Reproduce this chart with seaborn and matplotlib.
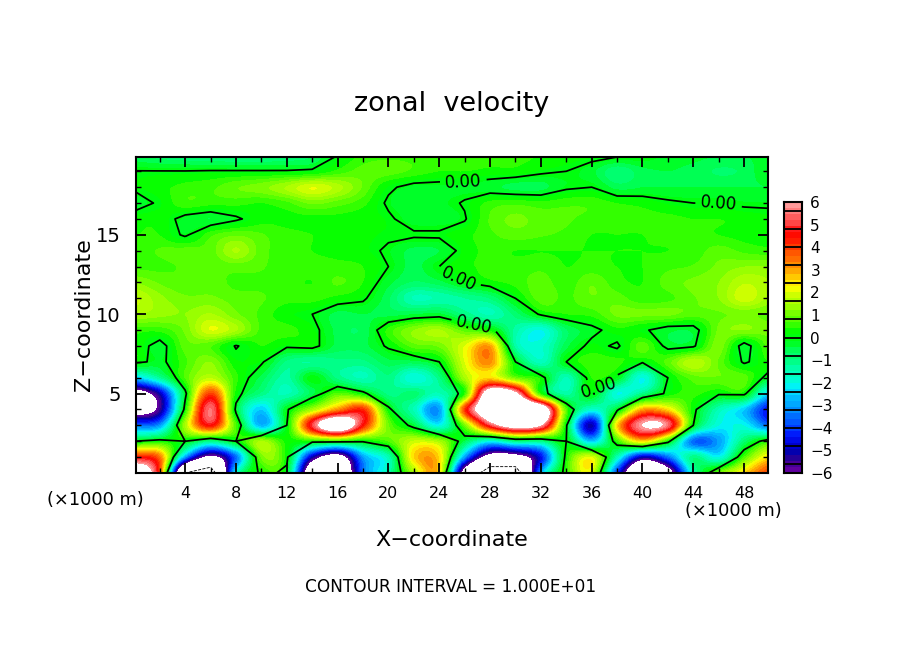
import numpy as np
import pandas as pd
import matplotlib
matplotlib.use('Agg')
import matplotlib.pyplot as plt
from matplotlib.colors import LinearSegmentedColormap, ListedColormap, BoundaryNorm
import seaborn as sns

# grid: x every 2 km, z every 1 km
x_km = [0, 2, 4, 6, 8, 10, 12, 14, 16, 18, 20, 22, 24, 26, 28, 30, 32, 34, 36, 38, 40, 42, 44, 46, 48, 50]
z_km = list(range(21))

u_z00 = [8, 4, -10, -12, -2, 0.3, -0.2, -8, -9, -3.5, -1.5, 1.5, 2.5, -7, -12, -12, -3, 0.5, 2, -4, -9, -7, -1.5, 1, 2.5, 4]
u_z01 = [4.5, 3.5, -3, -6.5, -3.5, 1, 0.2, -5, -7, -3, -1.5, 2.5, 2.5, -3, -7, -7, -4.5, 0.3, 2, -1.5, -5, -3.5, -1, -2, 0.7, 2.5]
u_z02 = [0, 0.3, 0, -1, 0, 1.5, 0.3, 0.3, 0.3, 0.1, 0.7, 1.8, 1.5, -0.5, -2, -1, -1, 0, -2.5, 0.5, 2.5, 0.3, -3.5, -3, -0.8, 0.5]
u_z03 = [-3.5, -3, 1.5, 4.5, 0.7, -2.7, 0, 5, 8, 4.5, 1, -0.3, -2, 1, 5, 7, 6, 0.1, -5, 2.5, 6, 5.5, 0, -2, -2, -3.5]
u_z04 = [-7, -5.5, 0.3, 5.5, -0.2, -2.5, -0.1, 1.5, 3.2, 4.2, 0.2, -1.5, -3, 4, 8, 9, 8, 0.8, -1.8, -0.2, 3, 2.5, 0.2, -1.5, -2.5, -4.5]
u_z05 = [-7, -5, -0.2, 4, 0.3, -1, -1.5, -0.5, 0.8, 0.2, -1, -0.8, -1.5, 0.5, 7.5, 6.5, 0.5, -1.3, 0, -2, -1, 0.2, 0.5, 0.1, 0.2, -2.5]
u_z06 = [-2.5, -1.2, 0.7, 1.7, 0.5, -0.5, -1.3, 0, -1, -1.5, -1, -2, -1, 1.5, 2.5, 1, 0.3, -1.5, 0.4, -0.1, -2, 0, 0.8, 0.9, 0.8, -0.3]
u_z07 = [0.2, -0.2, 0.6, 1.2, 0.2, 0.1, -1, -1.2, -1, -1, -0.5, -0.5, 0, 2, 3.2, 0, -1.6, 0, 0.6, 0.5, 0.1, 0.8, 1.7, 0.9, -0.1, 0.4]
u_z08 = [0.4, -0.3, 0.8, 0.7, -0.05, 0.4, 0.1, 0.2, -0.5, -0.5, 0.1, 0.8, 1, 2, 3, -1.3, -1.8, -0.5, 0.2, -0.1, 0.8, -0.2, -0.1, 1.1, -0.3, 0.8]
u_z09 = [0.5, 0.5, 1, 2, 1.5, 0.6, 0.5, 0.2, -0.5, -0.6, 0.5, 1.2, 1.5, 0.8, 0.3, -1.3, -2, -0.7, -0.2, 0.3, 0.1, -0.3, -0.3, 1, 1.2, 1]
u_z10 = [1.5, 1.3, 1.2, 1.5, 1, 0.6, 0.2, 0, -0.5, -0.4, -0.5, -0.4, -0.3, -1, -1.5, -0.8, 0.1, 0.4, 0.5, 1, 1, 1, 0.8, 0.9, 1, 0.9]
u_z11 = [1.8, 1.3, 1, 1, 0.8, 0.7, 0.5, 0.5, 0.3, 0.1, -0.6, -1.5, -1.4, -1.2, -0.9, 0, 0.8, 0.6, 0.9, 0.8, 0.5, 0.6, 0.9, 1.2, 1.9, 1.4]
u_z12 = [1.2, 0.9, 0.7, 0.8, 0.6, 0.6, 0.5, 0.4, 0.7, 0.4, -0.3, -0.7, -0.5, 0, 0.3, 0.5, 0.8, 0.5, 0.9, 0.5, 0.4, 0.8, 1, 1.2, 1.7, 1.5]
u_z13 = [0.6, 0.6, 0.7, 0.7, 0.8, 0.7, 0.5, 0.5, 0.5, 0.4, 0, -0.5, 0, 0.3, 0.5, 0.5, 0.6, 0.4, 0.5, 0.4, 0.4, 0.6, 0.7, 1, 1.2, 1.2]
u_z14 = [0.5, 0.7, 0.8, 0.8, 1.5, 0.8, 0.5, 0.4, 0.3, 0.2, -0.1, -0.5, -0.4, 0.2, 0.5, 0.4, 0.4, 0.4, 0.4, 0.4, 0.4, 0.4, 0.5, 0.8, 0.6, 0.5]
u_z15 = [0.4, 0.4, -0.1, 0.6, 0.9, 0.7, 0.5, 0.4, 0.3, 0.2, 0.1, 0.1, 0.1, 0.3, 0.6, 0.8, 0.7, 0.6, 0.4, 0.4, 0.4, 0.5, 0.5, 0.4, 0.3, 0.2]
u_z16 = [0.3, 0.3, -0.2, -0.4, -0.1, 0.3, 0.3, 0.3, 0.3, 0.2, 0.1, -0.3, -0.3, -0.05, 0.7, 1, 0.8, 0.7, 0.6, 0.5, 0.5, 0.5, 0.4, 0.4, 0.3, 0.2]
u_z17 = [-0.3, 0.1, 0.6, 0.5, 0.5, 0.4, 0.6, 1, 0.8, 0.5, -0.1, -0.3, -0.2, 0.05, 0.5, 0.6, 0.5, 0.6, 0.6, 0.4, 0.3, 0.1, 0, 0, -0.1, -0.1]
u_z18 = [0.1, 0.3, 0.5, 0.6, 0.9, 1.1, 1.5, 2, 1.6, 0.9, 0.1, -0.2, -0.2, -0.2, -0.3, -0.5, -0.5, -0.1, 0, -0.5, -0.4, -0.4, -0.4, -0.4, -0.4, -0.4]
u_z19 = [0.02, 0.02, 0.02, 0.05, 0.05, 0.05, 0.05, 0.1, 0.5, 0.8, 0.8, 0.6, 0.4, 0.4, 0.3, 0.3, 0.1, 0, -0.3, -0.9, -0.5, -0.4, -0.5, -0.7, -0.6, -0.1]
u_z20 = [-0.6, -0.8, -0.9, -1, -1, -1, -0.9, -0.7, 0, 0.5, 0.6, 0.6, 0.6, 0.7, 0.6, 0.5, 0.4, 0.3, 0.2, 0.1, 0.05, -0.2, -0.3, -0.4, -0.4, -0.3]

u_rows = [u_z00, u_z01, u_z02, u_z03, u_z04, u_z05, u_z06, u_z07, u_z08, u_z09, u_z10,
          u_z11, u_z12, u_z13, u_z14, u_z15, u_z16, u_z17, u_z18, u_z19, u_z20]

cbar_labels = [6, 5, 4, 3, 2, 1, 0, -1, -2, -3, -4, -5, -6]
xtick_labels = [4, 8, 12, 16, 20, 24, 28, 32, 36, 40, 44, 48]
ytick_labels = [5, 10, 15]

# colour ramp from the colour bar, low to high
ramp = ['#6000a0', '#300090', '#0000b0', '#0000e0', '#0020ff', '#0050ff', '#0070ff',
        '#00a0ff', '#00c0ff', '#00f0ff', '#00ffd0', '#00ffb0', '#00ff80', '#00ff60',
        '#00ff20', '#00ff00', '#40ff00', '#70ff00', '#a0ff00', '#c8ff00', '#ffff00',
        '#ffd000', '#ffa000', '#ff7000', '#ff5000', '#ff2000', '#ff0000', '#ff4444',
        '#ff6666', '#ff9999']


def kx(v):
    # km to heatmap cell coordinate
    return np.asarray(v) / 2 + 0.5


def kz(v):
    return np.asarray(v) + 0.5


sns.set_theme(style='white')
plt.rcParams['font.family'] = 'DejaVu Sans'
plt.rcParams['text.color'] = 'black'

levels = np.linspace(-6, 6, 46)
cmap = ListedColormap(LinearSegmentedColormap.from_list('zonal', ramp)(np.linspace(0, 1, 45)))
cmap.set_over('white')
cmap.set_under('white')
norm = BoundaryNorm(levels, 45)

W, H = 904, 654
fig = plt.figure(figsize=(W / 100, H / 100), dpi=100, facecolor='white')
ax = fig.add_axes([136 / W, 1 - 473 / H, (768 - 136) / W, (473 - 157) / H])

u = pd.DataFrame(u_rows, index=z_km, columns=x_km)
sns.heatmap(u, ax=ax, cmap=cmap, norm=norm, cbar=False, xticklabels=False, yticklabels=False)

# smooth version of the same cells on top
ax.imshow(u.values, origin='lower', extent=(0, len(x_km), 0, len(z_km)), aspect='auto', zorder=1.5,
          cmap=cmap, norm=norm, interpolation='catrom', interpolation_stage='data')

ax.set_xlim(kx(0.13), kx(49.88))
ax.set_ylim(kz(0.0), kz(19.9))
ax.set_axisbelow(False)

cx = np.arange(len(x_km)) + 0.5
cy = np.arange(len(z_km)) + 0.5
ax.contour(cx, cy, u.values, levels=[-10], colors='black', linewidths=0.6, linestyles='dashed', zorder=2)
cs = ax.contour(cx, cy, u.values, levels=[0], colors='black', linewidths=1.25, linestyles='solid', zorder=2)
ax.clabel(cs, fmt='%.2f', fontsize=12, inline=True, colors='black',
          manual=[(kx(25.9), kz(18.2)), (kx(46), kz(17)), (kx(25.9), kz(12.7)),
                  (kx(26.8), kz(9.5)), (kx(36.7), kz(5.2))])

ax.set_xticks(kx(xtick_labels))
ax.set_xticklabels(xtick_labels, fontsize=11.5)
ax.set_xticks(kx(np.arange(2, 50, 4)), minor=True)
ax.set_yticks(kz(ytick_labels))
ax.set_yticklabels(ytick_labels, fontsize=14)
ax.set_yticks(kz([v for v in range(1, 20) if v % 5 != 0]), minor=True)
ax.tick_params(axis='both', which='major', direction='in', length=7, width=1.3,
               top=True, right=True, bottom=True, left=True, color='black', labelcolor='black')
ax.tick_params(axis='both', which='minor', direction='in', length=3.5, width=1,
               top=True, right=True, bottom=True, left=True, color='black')
ax.tick_params(axis='x', which='major', pad=9)
ax.tick_params(axis='y', which='major', pad=11)
for sp in ax.spines.values():
    sp.set_visible(True)
    sp.set_color('black')
    sp.set_linewidth(1.5)

# colour bar, one cell per shade with black lines between the groups
cax = fig.add_axes([784 / W, 1 - 473 / H, 18 / W, (473 - 202) / H])
mids = (levels[:-1] + levels[1:]) / 2
sns.heatmap(mids.reshape(-1, 1), ax=cax, cmap=cmap, norm=norm, cbar=False,
            xticklabels=False, yticklabels=False)
cax.set_ylim(0, 45)
for edge in np.arange(-5.6, 5.7, 0.8):
    cax.axhline((edge + 6) / 12 * 45, color='black', lw=1.3)
cax.set_yticks([(v + 6) / 12 * 45 for v in cbar_labels])
cax.set_yticklabels([str(v).replace('-', '\u2212') for v in cbar_labels], fontsize=11)
cax.yaxis.tick_right()
cax.tick_params(axis='y', length=0, pad=6, labelcolor='black')
for sp in cax.spines.values():
    sp.set_visible(True)
    sp.set_color('black')
    sp.set_linewidth(1.5)

fig.text(452 / W, 1 - 104 / H, 'zonal  velocity', fontsize=19.5, ha='center', va='center')
fig.text(452 / W, 1 - 540 / H, 'X\u2212coordinate', fontsize=16, ha='center', va='center')
fig.text(84 / W, 1 - 315 / H, 'Z\u2212coordinate', fontsize=16, rotation=90, ha='center', va='center')
fig.text(95 / W, 1 - 500 / H, '(\u00d71000 m)', fontsize=12.8, ha='center', va='center')
fig.text(733 / W, 1 - 511 / H, '(\u00d71000 m)', fontsize=12.8, ha='center', va='center')
fig.text(451 / W, 1 - 587 / H, 'CONTOUR INTERVAL = 1.000E+01', fontsize=12.2, ha='center', va='center')

fig.savefig('out.png', dpi=100)
